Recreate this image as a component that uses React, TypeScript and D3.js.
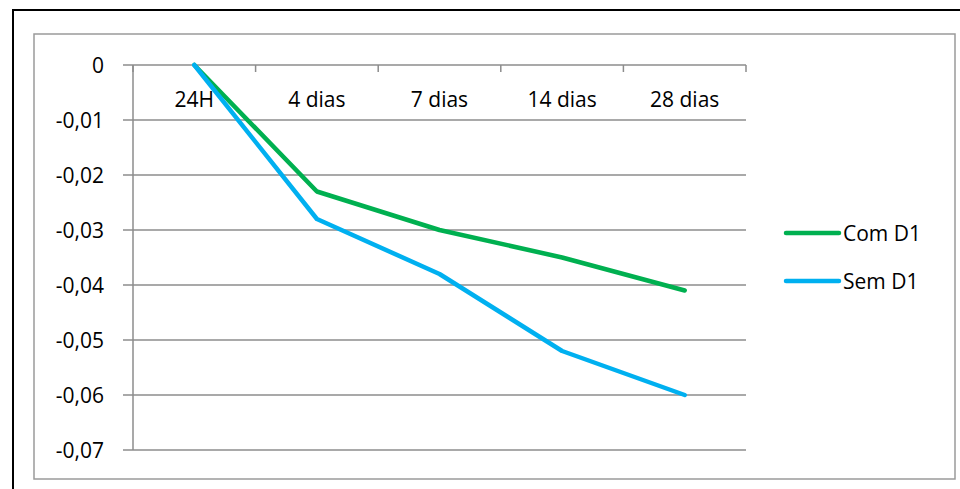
import React from "react";
import * as d3 from "d3";

const categories = ["24H", "4 dias", "7 dias", "14 dias", "28 dias"];
const comD1 = [0, -0.023, -0.03, -0.035, -0.041];
const semD1 = [0, -0.028, -0.038, -0.052, -0.06];
const yTicks = [0, -0.01, -0.02, -0.03, -0.04, -0.05, -0.06, -0.07];
const seriesNames = ["Com D1", "Sem D1"];
const seriesColors = ["#00B050", "#00B0F0"];

const W = 960;
const H = 489;
const FONT = "'Open Sans', sans-serif";
const GRID = "#8c8c8c";

export default function App() {
  const x = d3.scaleBand<string>().domain(categories).range([133, 746]);
  const y = d3.scaleLinear().domain([-0.07, 0]).range([450, 65]);
  const cx = (c: string) => (x(c) as number) + x.bandwidth() / 2;

  const line = d3
    .line<number>()
    .x((_, i) => cx(categories[i]))
    .y((v) => y(v));

  const fmt = (v: number) => (v === 0 ? "0" : d3.format(".2f")(v).replace(".", ",").replace("−", "-"));

  const series = [comD1, semD1];
  const boundaries = [...categories.map((c) => x(c) as number), x.range()[1]];

  return (
    <svg
      width={W}
      height={H}
      style={{ position: "absolute", left: 0, top: 0, background: "#fff" }}
      fontFamily={FONT}
    >
      {/* outer frame */}
      <rect x={13} y={10} width={1000} height={600} fill="none" stroke="#000" strokeWidth={2} />
      {/* chart area frame */}
      <rect x={34} y={34} width={921} height={445} fill="#fff" stroke="#9a9a9a" strokeWidth={1.5} />

      {/* horizontal gridlines and value axis */}
      {yTicks.map((t) => (
        <g key={t}>
          <line x1={123} x2={746} y1={y(t)} y2={y(t)} stroke={GRID} strokeWidth={1.5} />
          <text x={104} y={y(t)} dy="0.36em" textAnchor="end" fontSize={21} fill="#000">
            {fmt(t)}
          </text>
        </g>
      ))}
      <line x1={133} x2={133} y1={y(0)} y2={y(-0.07)} stroke={GRID} strokeWidth={1.5} />

      {/* category ticks on the zero line */}
      {boundaries.map((b, i) => (
        <line key={i} x1={b} x2={b} y1={y(0)} y2={y(0) + 7} stroke={GRID} strokeWidth={1.5} />
      ))}
      {categories.map((c) => (
        <text key={c} x={cx(c)} y={107} textAnchor="middle" fontSize={21} fill="#000">
          {c}
        </text>
      ))}

      {/* series */}
      {series.map((s, i) => (
        <path
          key={seriesNames[i]}
          d={line(s) as string}
          fill="none"
          stroke={seriesColors[i]}
          strokeWidth={4.5}
          strokeLinecap="round"
          strokeLinejoin="round"
        />
      ))}

      {/* legend */}
      {seriesNames.map((n, i) => {
        const ly = 233 + i * 48;
        return (
          <g key={n}>
            <line x1={786} x2={839} y1={ly} y2={ly} stroke={seriesColors[i]} strokeWidth={4.5} strokeLinecap="round" />
            <text x={843} y={ly} dy="0.36em" fontSize={21} fill="#000">
              {n}
            </text>
          </g>
        );
      })}
    </svg>
  );
}
